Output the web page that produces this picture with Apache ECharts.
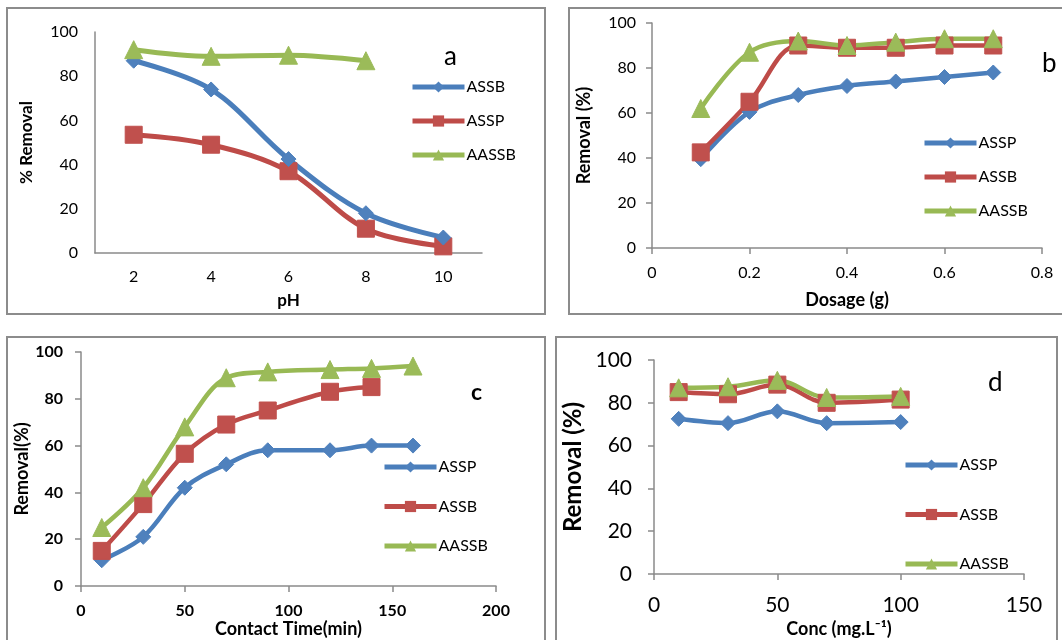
<!DOCTYPE html>
<html>
<head>
<meta charset="utf-8">
<script src="https://cdn.jsdelivr.net/npm/echarts@6/dist/echarts.min.js"></script>
<style>
html,body{margin:0;padding:0;background:#fff;}
#main{width:1062px;height:640px;}
</style>
</head>
<body>
<div id="main"></div>
<script>
// Panel a: effect of pH
const phCats = ['2', '4', '6', '8', '10'];
const phASSB = [87, 74, 42.5, 18, 7];
const phASSP = [53.5, 49, 37, 11, 3];
const phAASSB = [92, 89, 89.5, 87];

// Panel b: effect of dosage (g)
const dosage = [0.1, 0.2, 0.3, 0.4, 0.5, 0.6, 0.7];
const dosASSP = [39.5, 60.5, 68, 72, 74, 76, 78];
const dosASSB = [42.5, 65, 90, 89, 89, 90, 90];
const dosAASSB = [62, 87, 92, 90, 91.5, 93, 93];

// Panel c: effect of contact time (min)
const timeASSPx = [10, 30, 50, 70, 90, 120, 140, 160];
const timeASSP = [11, 21, 42, 52, 58, 58, 60, 60];
const timeASSBx = [10, 30, 50, 70, 90, 120, 140];
const timeASSB = [15, 35, 56.5, 69, 75, 83, 85];
const timeAASSBx = [10, 30, 50, 70, 90, 120, 140, 160];
const timeAASSB = [25, 42, 68, 89, 91.5, 92.5, 93, 94];

// Panel d: effect of concentration (mg/L)
const conc = [10, 30, 50, 70, 100];
const concASSP = [72.5, 70.5, 76, 70.5, 71];
const concASSB = [85, 84, 88.5, 80, 81.5];
const concAASSB = [87, 87.5, 90.5, 82.5, 83];

const blue = {line: '#4a7ebb', fill: '#4f81bd'};
const red = {line: '#be4b48', fill: '#c0504d'};
const green = {line: '#98b954', fill: '#9bbb59'};
const FONT = 'Lato, "Open Sans", sans-serif';
const AX = '#8a8a8a';

function pair(xs, ys) { return xs.map((x, i) => [x, ys[i]]); }

function mkSeries(name, idx, data, col, shape, lw) {
  return {
    type: 'line', name: name, xAxisIndex: idx, yAxisIndex: idx,
    data: data, smooth: 0.35, symbol: shape,
    symbolSize: shape === 'diamond' ? 15 : (shape === 'rect' ? 17 : 18),
    lineStyle: {color: col.line, width: lw},
    itemStyle: {color: col.fill, borderColor: col.fill},
    emphasis: {disabled: true}, animation: false, z: 3
  };
}

function yAxis(idx, fs, bold, ticks, margin, name, nameSize, nameGap) {
  return {
    gridIndex: idx, type: 'value', min: 0, max: 100, interval: 20,
    axisLine: {show: true, lineStyle: {color: AX, width: 1.5}},
    axisTick: {show: ticks, length: 6, lineStyle: {color: AX, width: 1.5}},
    splitLine: {show: false},
    axisLabel: {fontSize: fs, fontFamily: FONT, color: '#000', fontWeight: bold ? 'bold' : 'normal', margin: margin},
    name: name, nameLocation: 'middle', nameGap: nameGap,
    nameTextStyle: {fontSize: nameSize, fontWeight: 'bold', fontFamily: FONT, color: '#000'}
  };
}

function xValAxis(idx, min, max, interval, fs, bold, margin, name, nameSize, nameGap, decimals) {
  return {
    gridIndex: idx, type: 'value', min: min, max: max, interval: interval,
    axisLine: {show: true, onZero: false, lineStyle: {color: AX, width: 1.5}},
    axisTick: {show: true, length: 6, lineStyle: {color: AX, width: 1.5}},
    splitLine: {show: false},
    axisLabel: {fontSize: fs, fontFamily: FONT, color: '#000', fontWeight: bold ? 'bold' : 'normal', margin: margin,
      formatter: v => decimals ? (v === 0 ? '0' : v.toFixed(decimals)) : String(v)},
    name: name, nameLocation: 'middle', nameGap: nameGap,
    nameTextStyle: {fontSize: nameSize, fontWeight: 'bold', fontFamily: FONT, color: '#000'}
  };
}

function legend(names, left, top, gap) {
  return {
    data: names, orient: 'vertical', left: left, top: top, itemGap: gap, padding: 0,
    itemWidth: 52, itemHeight: 14, selectedMode: false,
    lineStyle: {width: 5},
    formatter: n => n.split(':')[1],
    textStyle: {fontSize: 16, fontFamily: FONT, color: '#000', padding: [0, 0, 0, -3], lineHeight: 17}
  };
}

const option = {
  backgroundColor: '#fff',
  animation: false,
  grid: [
    {left: 95, top: 32, width: 387, height: 221},
    {left: 652, top: 23, width: 390, height: 225},
    {left: 81, top: 352, width: 415, height: 234},
    {left: 654, top: 360, width: 370, height: 214}
  ],
  xAxis: [
    {
      gridIndex: 0, type: 'category', data: phCats, boundaryGap: true,
      axisLine: {show: true, lineStyle: {color: AX, width: 1.5}},
      axisTick: {show: false},
      axisLabel: {fontSize: 16, fontFamily: FONT, color: '#000', margin: 16},
      name: 'pH', nameLocation: 'middle', nameGap: 39,
      nameTextStyle: {fontSize: 17, fontWeight: 'bold', fontFamily: FONT, color: '#000'}
    },
    xValAxis(1, 0, 0.8, 0.2, 16, false, 17, 'Dosage (g)', 18, 43, 1),
    xValAxis(2, 0, 200, 50, 16, true, 17, 'Contact Time(min)', 18, 31, 0),
    xValAxis(3, 0, 150, 50, 21, false, 21, 'Conc (mg.L\u207B\u00B9)', 18, 46, 0)
  ],
  yAxis: [
    yAxis(0, 16, false, false, 17, '% Removal', 17, 60),
    yAxis(1, 16, false, true, 16, 'Removal (%)', 18, 59),
    yAxis(2, 16, true, true, 18, 'Removal(%)', 18, 49),
    yAxis(3, 21, false, true, 22, 'Removal (%)', 24, 69)
  ],
  legend: [
    legend(['a:ASSB', 'a:ASSP', 'a:AASSB'], 410, 78.5, 17),
    legend(['b:ASSP', 'b:ASSB', 'b:AASSB'], 922, 134.5, 17),
    legend(['c:ASSP', 'c:ASSB', 'c:AASSB'], 382, 458.5, 22.5),
    legend(['d:ASSP', 'd:ASSB', 'd:AASSB'], 903, 456.5, 32.5)
  ],
  series: [
    mkSeries('a:ASSP', 0, phASSP, red, 'rect', 5),
    mkSeries('a:ASSB', 0, phASSB, blue, 'diamond', 5),
    mkSeries('a:AASSB', 0, phAASSB, green, 'triangle', 5),

    mkSeries('b:ASSP', 1, pair(dosage, dosASSP), blue, 'diamond', 4.5),
    mkSeries('b:ASSB', 1, pair(dosage, dosASSB), red, 'rect', 4.5),
    mkSeries('b:AASSB', 1, pair(dosage, dosAASSB), green, 'triangle', 4.5),

    mkSeries('c:ASSP', 2, pair(timeASSPx, timeASSP), blue, 'diamond', 4.5),
    mkSeries('c:ASSB', 2, pair(timeASSBx, timeASSB), red, 'rect', 4.5),
    mkSeries('c:AASSB', 2, pair(timeAASSBx, timeAASSB), green, 'triangle', 4.5),

    mkSeries('d:ASSP', 3, pair(conc, concASSP), blue, 'diamond', 4.5),
    mkSeries('d:ASSB', 3, pair(conc, concASSB), red, 'rect', 4.5),
    mkSeries('d:AASSB', 3, pair(conc, concAASSB), green, 'triangle', 4.5)
  ],
  graphic: [
    {type: 'rect', shape: {x: 7, y: 8, width: 538, height: 306}, style: {fill: 'none', stroke: '#8c8c8c', lineWidth: 2}, z: 0},
    {type: 'rect', shape: {x: 569, y: 8, width: 520, height: 306}, style: {fill: 'none', stroke: '#8c8c8c', lineWidth: 2}, z: 0},
    {type: 'rect', shape: {x: 7, y: 337, width: 538, height: 320}, style: {fill: 'none', stroke: '#8c8c8c', lineWidth: 2}, z: 0},
    {type: 'rect', shape: {x: 556, y: 337, width: 501, height: 320}, style: {fill: 'none', stroke: '#8c8c8c', lineWidth: 2}, z: 0},
    {type: 'text', left: 444, top: 44, style: {text: 'a', fontSize: 26, fontFamily: FONT, fill: '#000'}},
    {type: 'text', left: 1042, top: 51, style: {text: 'b', fontSize: 26, fontFamily: FONT, fill: '#000'}},
    {type: 'text', left: 471, top: 381, style: {text: 'c', fontSize: 23, fontWeight: 'bold', fontFamily: FONT, fill: '#000'}},
    {type: 'text', left: 988, top: 370, style: {text: 'd', fontSize: 26, fontFamily: FONT, fill: '#000'}}
  ]
};

const chart = echarts.init(document.getElementById('main'), null, {renderer: 'canvas'});
chart.setOption(option);
</script>
</body>
</html>
